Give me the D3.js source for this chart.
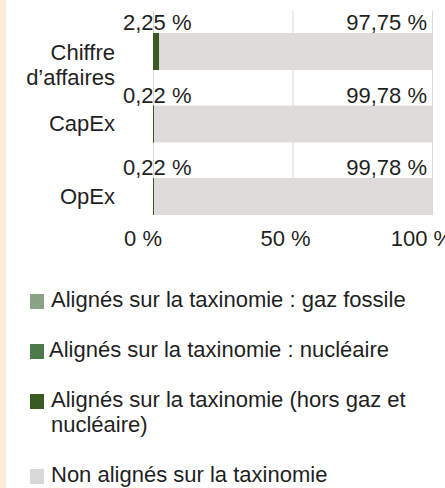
<!DOCTYPE html>
<html>
<head>
<meta charset="utf-8">
<script src="https://d3js.org/d3.v7.min.js"></script>
<style>
  body { margin: 0; background: #fff; }
  svg { display: block; font-family: "Liberation Sans", Arial, sans-serif; }
</style>
</head>
<body>
<svg id="mainsvg" width="445" height="488"></svg>
<script>
  // data
  const categories = ['Chiffre|d\u2019affaires', 'CapEx', 'OpEx'];
  const gazFossile = [0, 0, 0];
  const nucleaire = [0, 0, 0];
  const horsGaz = [2.25, 0.22, 0.22];
  const nonAlignes = [97.75, 99.78, 99.78];
  const ticks = [0, 50, 100];
  const legendLabels = [
    'Align\u00e9s sur la taxinomie : gaz fossile',
    'Align\u00e9s sur la taxinomie : nucl\u00e9aire',
    'Align\u00e9s sur la taxinomie (hors gaz et|nucl\u00e9aire)',
    'Non align\u00e9s sur la taxinomie'
  ];
  const colors = ['#88a386', '#4d7a4d', '#3a5a24', '#dfdbdb'];
  const legendColors = ['#88a386', '#4d7a4d', '#3a5a24', '#d9d9d9'];

  const svg = d3.select('#mainsvg');
  const fmt = v => v.toFixed(2).replace('.', ',') + ' %';
  const txt = '#1f1f1f';

  // bande à gauche
  svg.append('rect').attr('x', 0).attr('y', 0).attr('width', 5).attr('height', 488).attr('fill', '#fdebd6');
  svg.append('rect').attr('x', 5).attr('y', 0).attr('width', 1).attr('height', 488).attr('fill', '#ececec');

  const x = d3.scaleLinear().domain([0, 100]).range([153, 432]);
  const y = d3.scaleBand().domain(categories).range([33, 250.5]).paddingInner(0).paddingOuter(0);
  const barH = 37;

  // gridlines
  svg.append('g').selectAll('line').data(ticks).join('line')
    .attr('x1', d => x(d) + 0.5).attr('x2', d => x(d) + 0.5)
    .attr('y1', 11).attr('y2', 215)
    .attr('stroke', '#d9d9d9').attr('stroke-width', 1);

  const series = [gazFossile, nucleaire, horsGaz, nonAlignes];
  const rows = categories.map((c, i) => {
    const o = { cat: c };
    series.forEach((s, k) => o['s' + k] = s[i]);
    return o;
  });
  const stack = d3.stack().keys(['s0', 's1', 's2', 's3'])(rows);

  svg.append('g').selectAll('g').data(stack).join('g')
    .attr('fill', (d, k) => colors[k])
    .selectAll('rect').data(d => d).join('rect')
    .attr('x', d => x(d[0]))
    .attr('width', d => Math.max(0, x(d[1]) - x(d[0])))
    .attr('y', d => y(d.data.cat))
    .attr('height', barH);

  // trait vert pour les petites valeurs
  svg.append('g').selectAll('line').data(categories).join('line')
    .attr('x1', x(0) + 0.5).attr('x2', x(0) + 0.5)
    .attr('y1', d => y(d)).attr('y2', d => y(d) + barH)
    .attr('stroke', colors[2]).attr('stroke-width', 1);

  // value labels
  const vl = svg.append('g').attr('font-size', 22).attr('fill', txt);
  vl.selectAll('text.l').data(horsGaz).join('text').attr('class', 'l')
    .attr('x', x(0) - 30).attr('y', (d, i) => y(categories[i]) - 3)
    .text(d => fmt(d));
  vl.selectAll('text.r').data(nonAlignes).join('text').attr('class', 'r')
    .attr('x', x(100) - 5).attr('y', (d, i) => y(categories[i]) - 3)
    .attr('text-anchor', 'end')
    .text(d => fmt(d));

  // category labels
  const cl = svg.append('g').attr('font-size', 22).attr('fill', txt).attr('text-anchor', 'end');
  categories.forEach(c => {
    const lines = c.split('|');
    const t = cl.append('text').attr('x', 115).attr('y', y(c) + barH / 2 + 7 + (lines.length > 1 ? 1.5 : 0));
    lines.forEach((ln, j) => t.append('tspan').attr('x', 115).attr('dy', j ? 25 : 0).text(ln));
  });

  // axis labels
  svg.append('g').attr('font-size', 22).attr('fill', txt).attr('text-anchor', 'middle')
    .selectAll('text').data(ticks).join('text')
    .attr('x', d => x(d) - 10 + (d === 50 ? 3 : 0)).attr('y', 246)
    .text(d => d + ' %');

  // legend
  const lg = svg.append('g').attr('font-size', 22).attr('fill', txt);
  let ly = 307;
  legendLabels.forEach((lab, i) => {
    const lines = lab.split('|');
    const tx = i === 1 ? 49 : 51;
    lg.append('rect').attr('x', 30).attr('y', ly - 13).attr('width', 14).attr('height', 15)
      .attr('fill', legendColors[i]);
    const t = lg.append('text').attr('x', tx).attr('y', ly);
    lines.forEach((ln, j) => t.append('tspan').attr('x', tx).attr('dy', j ? 25 : 0).text(ln));
    ly += lines.length * 25 + 25;
  });
</script>
</body>
</html>
